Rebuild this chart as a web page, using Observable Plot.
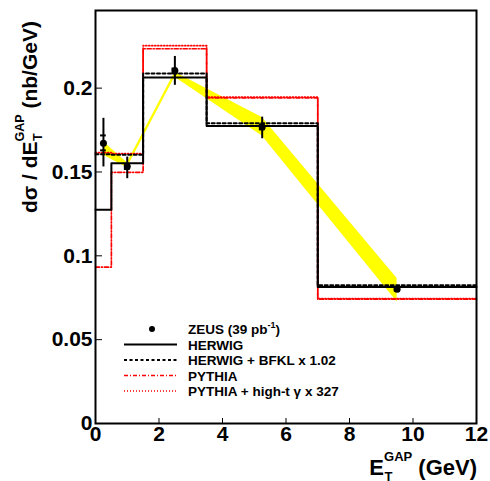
<!DOCTYPE html>
<html><head><meta charset="utf-8">
<script src="https://cdn.jsdelivr.net/npm/d3@7"></script>
<script src="https://cdn.jsdelivr.net/npm/@observablehq/plot@0.6"></script>
<style>
body{margin:0;background:#fff;}
#chart{position:relative;width:490px;height:481px;}
</style></head><body><div id="chart"></div>
<script>
// ---- data ----
const binEdges = [0, 0.5, 1.5, 3.5, 7, 12];
const herwig      = [0.1275, 0.1552, 0.2063, 0.1774, 0.0814];
const herwigBfkl  = [0.1605, 0.1603, 0.2087, 0.1790, 0.0824];
const pythia      = [0.0933, 0.1498, 0.2235, 0.1942, 0.0742];
const pythiaHighT = [0.1615, 0.1610, 0.2253, 0.1946, 0.0745];

const zeusE  = [0.25, 1.0, 2.5, 5.25, 9.5];
const zeusY  = [0.1672, 0.1532, 0.2103, 0.1768, 0.0800];
const zeusLo = [0.1530, 0.1460, 0.2017, 0.1698, 0.0790];
const zeusHi = [0.1820, 0.1589, 0.2189, 0.1827, 0.0810];
const zeusStatLo = [0.1629, 0.1518, 0.2089, 0.1754, 0.0793];
const zeusStatHi = [0.1718, 0.1546, 0.2117, 0.1782, 0.0807];

const bandE  = [0.25, 1.0, 2.5, 5.25, 9.5];
const bandHi = [0.1680, 0.1555, 0.2095, 0.1825, 0.0865];
const bandLo = [0.1600, 0.1525, 0.2065, 0.1715, 0.0725];

const xTicks = [0, 2, 4, 6, 8, 10, 12];
const yTicks = [0, 0.05, 0.1, 0.15, 0.2];

const legendLabels = ["ZEUS (39 pb", "HERWIG", "HERWIG + BFKL x 1.02", "PYTHIA", "PYTHIA + high-t \u03b3 x 327"];

// ---- build tables ----
const steps = vals => binEdges.map((e, i) => ({x: e, y: vals[Math.min(i, vals.length - 1)]}));
const zeus = zeusE.map((e, i) => ({x: e, y: zeusY[i], lo: zeusLo[i], hi: zeusHi[i], slo: zeusStatLo[i], shi: zeusStatHi[i]}));
const stat = zeus.flatMap(d => [{x: d.x, y: d.slo}, {x: d.x, y: d.shi}]);
const band = bandE.map((e, i) => ({x: e, lo: bandLo[i], hi: bandHi[i]}));

const FONT = "Liberation Sans, Arial, Helvetica, sans-serif";
const sDash = {pythia: "4,2,1,2", pythiaHighT: "1,2", bfkl: "3,2.5"};
const redW = 1.7;

const plot = Plot.plot({
  width: 490, height: 481,
  marginLeft: 95, marginRight: 14, marginTop: 10, marginBottom: 58,
  x: {domain: [0, 12]},
  y: {domain: [0, 0.2463]},
  style: {fontFamily: FONT, fontWeight: "bold", background: "white", color: "black", overflow: "visible"},
  marks: [
    Plot.areaY(band, {x: "x", y1: "lo", y2: "hi", fill: "#ffff00", curve: "linear"}),
    Plot.line(steps(pythia), {x: "x", y: "y", curve: "step-after", stroke: "#ff0000", strokeWidth: redW, strokeDasharray: sDash.pythia}),
    Plot.line(steps(pythiaHighT), {x: "x", y: "y", curve: "step-after", stroke: "#ff0000", strokeWidth: redW, strokeDasharray: sDash.pythiaHighT}),
    Plot.line(steps(herwig), {x: "x", y: "y", curve: "step-after", stroke: "black", strokeWidth: 2}),
    Plot.line(steps(herwigBfkl), {x: "x", y: "y", curve: "step-after", stroke: "black", strokeWidth: 2, strokeDasharray: sDash.bfkl}),
    Plot.ruleX(zeus, {x: "x", y1: "lo", y2: "hi", stroke: "black", strokeWidth: 2}),
    Plot.ruleY(stat, {y: "y", x1: d => d.x - 0.09, x2: d => d.x + 0.09, stroke: "black", strokeWidth: 2}),
    Plot.dot(zeus, {x: "x", y: "y", r: 3.5, fill: "black", stroke: "none"}),
    Plot.axisX({ticks: xTicks, tickSize: -5, tickPadding: 8, fontSize: 21, tickFormat: d => String(d), label: null}),
    Plot.axisY({ticks: yTicks, tickSize: -7, tickPadding: 10, fontSize: 21, tickFormat: d => String(d), label: null}),
    Plot.frame({stroke: "black", strokeWidth: 2})
  ]
});
document.getElementById("chart").appendChild(plot);

// ---- rich-text titles and legend ----
const svg = d3.select(plot);
function tw(str, size) {
  const t = svg.append("text").attr("font-family", FONT).attr("font-weight", "bold").attr("font-size", size).text(str);
  const w = t.node().getComputedTextLength(); t.remove(); return w;
}
function put(g, x, y, str, size) {
  return g.append("text").attr("x", x).attr("y", y).attr("font-size", size).attr("font-family", FONT)
    .attr("font-weight", "bold").attr("fill", "black").attr("text-anchor", "start").text(str);
}
// x title: E_T^GAP (GeV)
{
  const g = svg.append("g");
  const big = 22, small = 13;
  const wE = tw("E", big), wS = Math.max(tw("GAP", small), tw("T", small)), wR = tw("\u00a0(GeV)", big);
  const x0 = 477 - (wE + wS + wR);
  put(g, x0, 475, "E", big);
  put(g, x0 + wE, 461, "GAP", small);
  put(g, x0 + wE + 0.5, 481, "T", small);
  put(g, x0 + wE + wS, 475, "\u00a0(GeV)", big);
}
// y title: dσ / dE_T^GAP (nb/GeV)
{
  const g = svg.append("g").attr("transform", "translate(37,213) rotate(-90)");
  const big = 21, small = 12.5;
  const w1 = tw("d\u03c3 / dE", big), wS = Math.max(tw("GAP", small), tw("T", small));
  put(g, 0, 0, "d\u03c3 / dE", big);
  put(g, w1, -13, "GAP", small);
  put(g, w1 + 0.5, 5, "T", small);
  put(g, w1 + wS, 0, "\u00a0(nb/GeV)", big);
}
// legend
{
  const g = svg.append("g");
  const rowY = [329, 344.5, 360, 375.5, 391];
  const x1 = 124, x2 = 177, tx = 188, fs = 13.5;
  g.append("circle").attr("cx", 152).attr("cy", rowY[0]).attr("r", 3).attr("fill", "black");
  const styles = [null, {c: "black", d: null, w: 2}, {c: "black", d: sDash.bfkl, w: 2}, {c: "#ff0000", d: sDash.pythia, w: redW}, {c: "#ff0000", d: sDash.pythiaHighT, w: redW}];
  styles.forEach((s, i) => {
    if (!s) return;
    g.append("line").attr("x1", x1).attr("x2", x2).attr("y1", rowY[i]).attr("y2", rowY[i])
      .attr("stroke", s.c).attr("stroke-width", s.w).attr("stroke-dasharray", s.d);
  });
  legendLabels.forEach((lab, i) => {
    const t = put(g, tx, rowY[i] + 5, lab, fs);
    if (i === 0) {
      t.append("tspan").attr("dy", -6).attr("font-size", 9).text("-1");
      t.append("tspan").attr("dy", 6).text(")");
    }
  });
}
</script></body></html>
